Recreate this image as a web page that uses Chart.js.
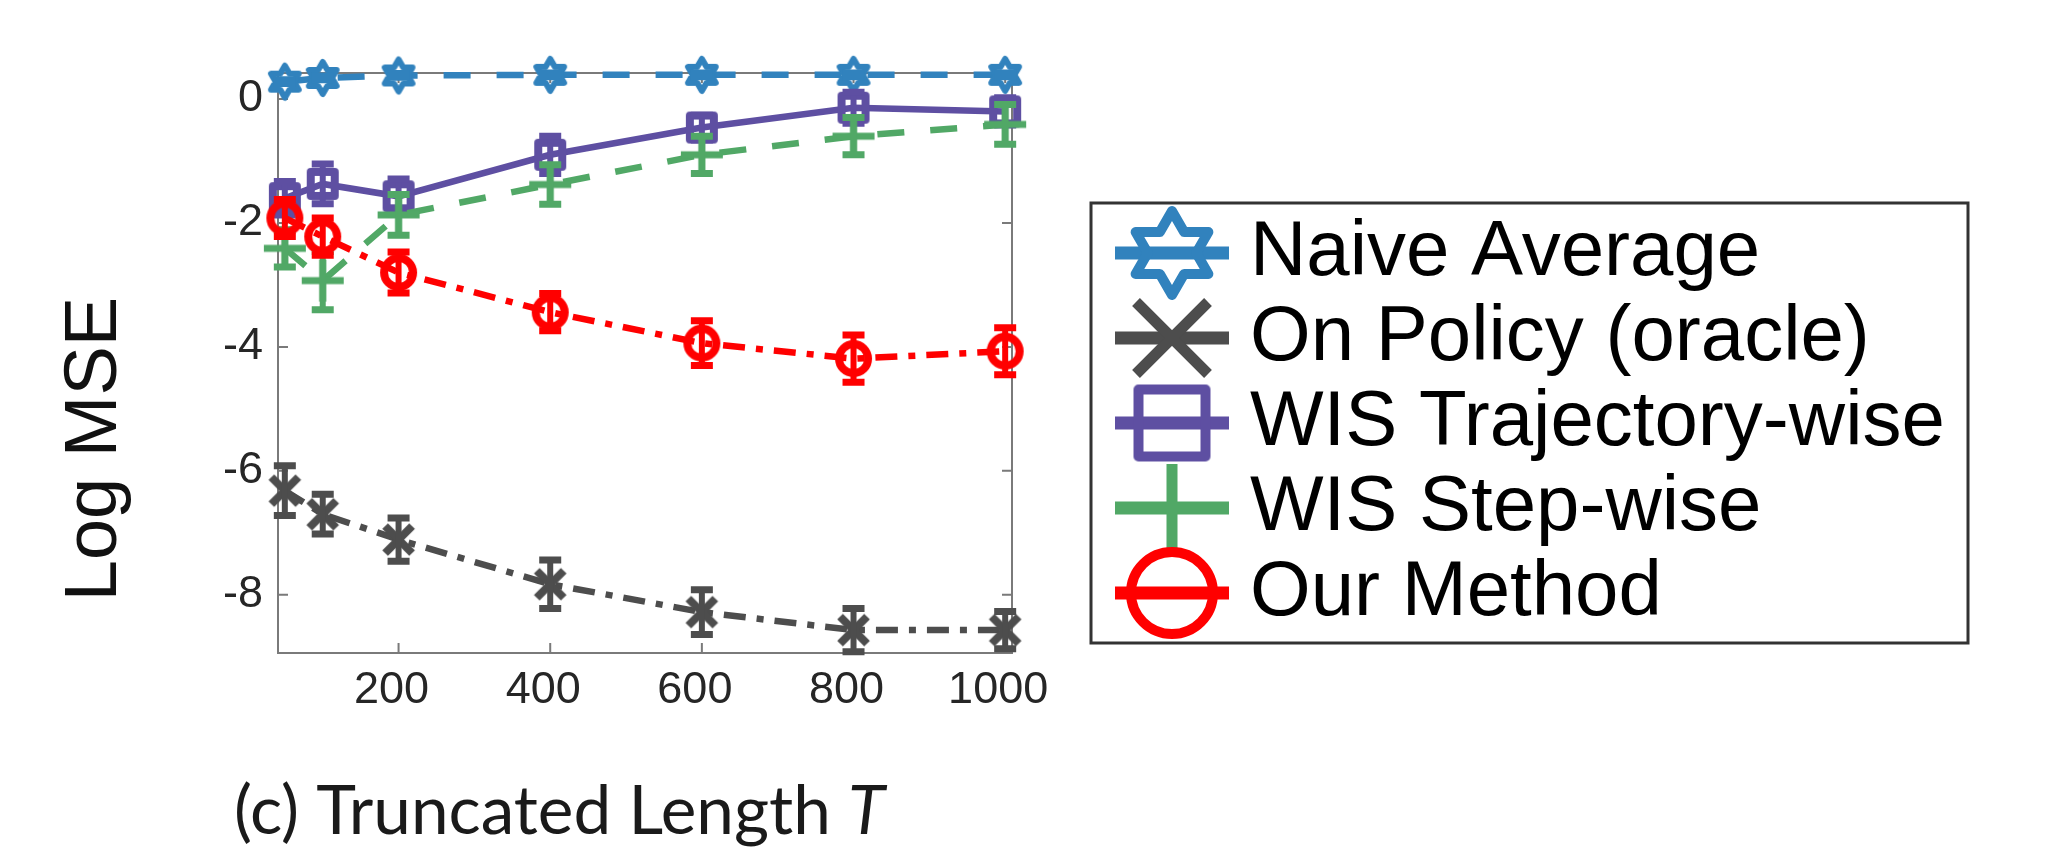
<!DOCTYPE html>
<html>
<head>
<meta charset="utf-8">
<script src="https://cdn.jsdelivr.net/npm/chart.js@4/dist/chart.umd.min.js"></script>
<style>
  html, body { margin: 0; padding: 0; background: #fff; }
  #wrap { position: relative; width: 2056px; height: 853px; }
</style>
</head>
<body>
<div id="wrap"><canvas id="chart" width="2056" height="853"></canvas></div>
<script>
// ---------- data ----------
var truncLengths = [50, 100, 200, 400, 600, 800, 1000];

var naiveAvg     = [0.28, 0.34, 0.38, 0.39, 0.39, 0.39, 0.39];
var naiveErr     = [0.03, 0.03, 0.03, 0.03, 0.03, 0.03, 0.03];
var onPolicy     = [-6.32, -6.70, -7.11, -7.83, -8.28, -8.57, -8.57];
var onPolicyErr  = [0.40, 0.32, 0.35, 0.39, 0.36, 0.35, 0.30];
var wisTraj      = [-1.60, -1.37, -1.57, -0.90, -0.46, -0.14, -0.20];
var wisTrajErr   = [0.27, 0.32, 0.28, 0.30, 0.20, 0.25, 0.22];
var wisStep      = [-2.41, -2.93, -1.87, -1.38, -0.90, -0.60, -0.41];
var wisStepErr   = [0.30, 0.47, 0.33, 0.32, 0.30, 0.30, 0.32];
var ourMethod    = [-1.92, -2.22, -2.80, -3.44, -3.94, -4.19, -4.07];
var ourMethodErr = [0.30, 0.30, 0.33, 0.30, 0.36, 0.38, 0.38];

var seriesNames = ['Naive Average', 'On Policy (oracle)', 'WIS Trajectory-wise', 'WIS Step-wise', 'Our Method'];

var xTicks = [200, 400, 600, 800, 1000];
var yTicks = [-8, -6, -4, -2, 0];

// ---------- marker images ----------
function makeMarker(kind, size, lw, color) {
    var d = Math.ceil(size + lw * 2 + 4);
    var c = document.createElement('canvas');
    c.width = d; c.height = d;
    var g = c.getContext('2d');
    g.translate(d / 2, d / 2);
    g.strokeStyle = color;
    g.lineWidth = lw;
    g.lineJoin = 'round';
    g.beginPath();
    var h = size / 2;
    if (kind === 'hexagram') {
        for (var k = 0; k < 12; k++) {
            var a = -Math.PI / 2 + k * Math.PI / 6;
            var r = (k % 2 === 0) ? h : h / Math.sqrt(3);
            if (k === 0) g.moveTo(r * Math.cos(a), r * Math.sin(a));
            else g.lineTo(r * Math.cos(a), r * Math.sin(a));
        }
        g.closePath();
    } else if (kind === 'x') {
        g.moveTo(-h, -h); g.lineTo(h, h);
        g.moveTo(-h, h); g.lineTo(h, -h);
    } else if (kind === 'square') {
        g.rect(-h, -h, size, size);
    } else if (kind === 'plus') {
        g.moveTo(-h, 0); g.lineTo(h, 0);
        g.moveTo(0, -h); g.lineTo(0, h);
    } else if (kind === 'circle') {
        g.arc(0, 0, h, 0, Math.PI * 2);
    }
    g.stroke();
    return c;
}

var colors = ['#3182bd', '#4d4d4d', '#5e4fa2', '#51a866', '#ff0000'];
var kinds = ['hexagram', 'x', 'square', 'plus', 'circle'];
var plotSizes = [32, 27, 24, 42, 29];
var plotStroke = [6, 8, 8, 7, 8];
var legendSizes = [84, 72, 67, 88, 82];
var legendStroke = [10, 11, 10, 11, 10];
var dashes = [[27, 26], [22, 11, 7, 11], [], [27, 26], [22, 11, 7, 11]];

var seriesValues = [naiveAvg, onPolicy, wisTraj, wisStep, ourMethod];
var seriesErrors = [naiveErr, onPolicyErr, wisTrajErr, wisStepErr, ourMethodErr];

var plotMarkers = kinds.map(function (k, i) { return makeMarker(k, plotSizes[i], plotStroke[i], colors[i]); });
var legendMarkers = kinds.map(function (k, i) { return makeMarker(k, legendSizes[i], legendStroke[i], colors[i]); });

function toPoints(vals) {
    return vals.map(function (v, i) { return {x: truncLengths[i], y: v}; });
}

var datasets = seriesNames.map(function (name, i) {
    return {
        label: name,
        data: toPoints(seriesValues[i]),
        borderColor: colors[i],
        backgroundColor: colors[i],
        borderWidth: 6.5,
        borderDash: dashes[i],
        pointStyle: plotMarkers[i],
        pointRadius: 12,
        tension: 0,
        clip: false,
        order: seriesNames.length - 1 - i
    };
});

// ---------- plugins ----------
var frame = {
    id: 'frame',
    beforeDatasetsDraw: function (chart) {
        var ctx = chart.ctx, a = chart.chartArea;
        var xs = chart.scales.x, ys = chart.scales.y;
        ctx.save();
        ctx.strokeStyle = '#7a7a7a';
        ctx.lineWidth = 2;
        ctx.strokeRect(a.left, a.top, a.right - a.left, a.bottom - a.top);
        ctx.beginPath();
        yTicks.forEach(function (t) {
            var y = ys.getPixelForValue(t);
            ctx.moveTo(a.left, y); ctx.lineTo(a.left + 10, y);
            ctx.moveTo(a.right, y); ctx.lineTo(a.right - 10, y);
        });
        xTicks.forEach(function (t) {
            var x = xs.getPixelForValue(t);
            ctx.moveTo(x, a.bottom); ctx.lineTo(x, a.bottom - 10);
            ctx.moveTo(x, a.top); ctx.lineTo(x, a.top + 10);
        });
        ctx.stroke();
        ctx.restore();
    },
    afterDatasetDraw: function (chart, args) {
        var i = args.index;
        var ctx = chart.ctx;
        var xs = chart.scales.x, ys = chart.scales.y;
        var vals = seriesValues[i], errs = seriesErrors[i];
        ctx.save();
        ctx.strokeStyle = colors[i];
        ctx.setLineDash([]);
        for (var j = 0; j < vals.length; j++) {
            var x = xs.getPixelForValue(truncLengths[j]);
            var y1 = ys.getPixelForValue(vals[j] + errs[j]);
            var y2 = ys.getPixelForValue(vals[j] - errs[j]);
            ctx.lineWidth = 6;
            ctx.beginPath();
            ctx.moveTo(x, y1); ctx.lineTo(x, y2);
            ctx.stroke();
            ctx.lineWidth = 7;
            ctx.beginPath();
            ctx.moveTo(x - 11, y1); ctx.lineTo(x + 11, y1);
            ctx.moveTo(x - 11, y2); ctx.lineTo(x + 11, y2);
            ctx.stroke();
        }
        ctx.restore();
    },
    afterDraw: function (chart) {
        var ctx = chart.ctx;
        ctx.save();
        // y axis title
        ctx.fillStyle = '#111';
        ctx.font = '74px "Liberation Sans", Arial, sans-serif';
        ctx.textAlign = 'center';
        ctx.textBaseline = 'alphabetic';
        ctx.translate(116, 449);
        ctx.rotate(-Math.PI / 2);
        ctx.fillText('Log MSE', 0, 0);
        ctx.restore();

        // caption
        ctx.save();
        ctx.fillStyle = '#1a1a1a';
        var part1 = '(c) Truncated Length ', part2 = 'T';
        ctx.font = '60px Lato, "Open Sans", sans-serif';
        var w = ctx.measureText(part1).width;
        ctx.font = 'italic 60px Lato, "Open Sans", sans-serif';
        w += ctx.measureText(part2).width;
        var fs = 60 * 651 / w;
        ctx.textAlign = 'left';
        ctx.textBaseline = 'alphabetic';
        ctx.font = fs + 'px Lato, "Open Sans", sans-serif';
        ctx.fillText(part1, 234, 834);
        var w1 = ctx.measureText(part1).width;
        ctx.font = 'italic ' + fs + 'px Lato, "Open Sans", sans-serif';
        ctx.fillText(part2, 234 + w1, 834);
        ctx.restore();

        // legend
        ctx.save();
        ctx.fillStyle = '#fff';
        ctx.fillRect(1091, 203, 877, 440);
        ctx.strokeStyle = '#333';
        ctx.lineWidth = 3;
        ctx.strokeRect(1091, 203, 877, 440);
        ctx.font = '78px "Liberation Sans", Arial, sans-serif';
        ctx.textBaseline = 'alphabetic';
        ctx.textAlign = 'left';
        for (var i = 0; i < seriesNames.length; i++) {
            var base = 275 + i * 85;
            var cy = base - 22;
            ctx.strokeStyle = colors[i];
            ctx.lineWidth = 13;
            ctx.beginPath();
            ctx.moveTo(1115, cy); ctx.lineTo(1229, cy);
            ctx.stroke();
            var m = legendMarkers[i];
            ctx.drawImage(m, 1172 - m.width / 2, cy - m.height / 2);
            ctx.fillStyle = '#000';
            ctx.fillText(seriesNames[i], 1250, base);
        }
        ctx.restore();
    }
};

var tickFont = {family: '"Liberation Sans", Arial, sans-serif', size: 45};

new Chart(document.getElementById('chart'), {
    type: 'line',
    data: {datasets: datasets},
    options: {
        responsive: false,
        animation: false,
        devicePixelRatio: 1,
        layout: {autoPadding: false, padding: {left: 0, top: 73, right: 1044, bottom: 0}},
        plugins: {legend: {display: false}, tooltip: {enabled: false}},
        scales: {
            x: {
                type: 'linear',
                min: 41, max: 1009,
                grid: {display: false, drawTicks: false},
                border: {display: false},
                afterBuildTicks: function (s) { s.ticks = xTicks.map(function (v) { return {value: v}; }); },
                afterFit: function (s) { s.height = 200; },
                ticks: {
                    font: tickFont, color: '#262626', padding: 11, labelOffset: -7,
                    maxRotation: 0, autoSkip: false,
                    callback: function (v) { return String(v); }
                }
            },
            y: {
                type: 'linear',
                min: -8.94, max: 0.42,
                grid: {display: false, drawTicks: false},
                border: {display: false},
                afterBuildTicks: function (s) { s.ticks = yTicks.map(function (v) { return {value: v}; }); },
                afterFit: function (s) { s.width = 278; },
                ticks: {
                    font: tickFont, color: '#262626', padding: 15, autoSkip: false,
                    callback: function (v) { return String(v); }
                }
            }
        }
    },
    plugins: [frame]
});
</script>
</body>
</html>
